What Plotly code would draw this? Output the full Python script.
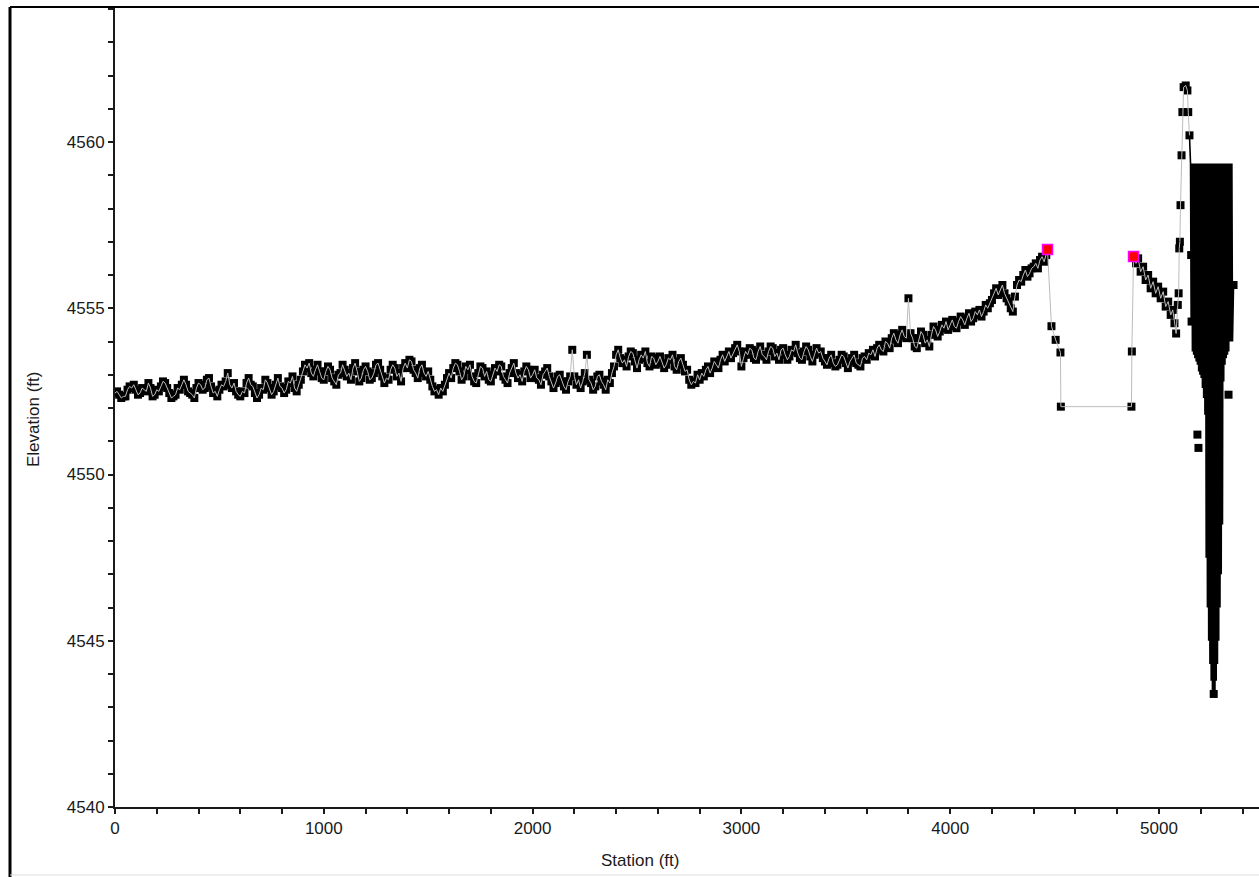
import plotly.graph_objects as go

# ---------------- data ----------------
station = [
    0, 10, 20, 30, 40, 50, 60, 70, 80, 90, 100, 110, 120, 130, 140, 150, 160, 170, 180, 190,
    200, 210, 220, 230, 240, 250, 260, 270, 280, 290, 300, 310, 320, 330, 340, 350, 360, 370, 380, 390,
    400, 410, 420, 430, 440, 450, 460, 470, 480, 490, 500, 510, 520, 530, 540, 550, 560, 570, 580, 590,
    600, 610, 620, 630, 640, 650, 660, 670, 680, 690, 700, 710, 720, 730, 740, 750, 760, 770, 780, 790,
    800, 810, 820, 830, 840, 850, 860, 870, 880, 890, 900, 910, 920, 930, 940, 950, 960, 970, 980, 990,
    1000, 1010, 1020, 1030, 1040, 1050, 1060, 1070, 1080, 1090, 1100, 1110, 1120, 1130, 1140, 1150, 1160, 1170, 1180, 1190,
    1200, 1210, 1220, 1230, 1240, 1250, 1260, 1270, 1280, 1290, 1300, 1310, 1320, 1330, 1340, 1350, 1360, 1370, 1380, 1390,
    1400, 1410, 1420, 1430, 1440, 1450, 1460, 1470, 1480, 1490, 1500, 1510, 1520, 1530, 1540, 1550, 1560, 1570, 1580, 1590,
    1600, 1610, 1620, 1630, 1640, 1650, 1660, 1670, 1680, 1690, 1700, 1710, 1720, 1730, 1740, 1750, 1760, 1770, 1780, 1790,
    1800, 1810, 1820, 1830, 1840, 1850, 1860, 1870, 1880, 1890, 1900, 1910, 1920, 1930, 1940, 1950, 1960, 1970, 1980, 1990,
    2000, 2010, 2020, 2030, 2040, 2050, 2060, 2070, 2080, 2090, 2100, 2110, 2120, 2130, 2140, 2150, 2160, 2170, 2180, 2190,
    2200, 2210, 2220, 2230, 2240, 2250, 2260, 2270, 2280, 2290, 2300, 2310, 2320, 2330, 2340, 2350, 2360, 2370, 2380, 2390,
    2400, 2410, 2420, 2430, 2440, 2450, 2460, 2470, 2480, 2490, 2500, 2510, 2520, 2530, 2540, 2550, 2560, 2570, 2580, 2590,
    2600, 2610, 2620, 2630, 2640, 2650, 2660, 2670, 2680, 2690, 2700, 2710, 2720, 2730, 2740, 2750, 2760, 2770, 2780, 2790,
    2800, 2810, 2820, 2830, 2840, 2850, 2860, 2870, 2880, 2890, 2900, 2910, 2920, 2930, 2940, 2950, 2960, 2970, 2980, 2990,
    3000, 3010, 3020, 3030, 3040, 3050, 3060, 3070, 3080, 3090, 3100, 3110, 3120, 3130, 3140, 3150, 3160, 3170, 3180, 3190,
    3200, 3210, 3220, 3230, 3240, 3250, 3260, 3270, 3280, 3290, 3300, 3310, 3320, 3330, 3340, 3350, 3360, 3370, 3380, 3390,
    3400, 3410, 3420, 3430, 3440, 3450, 3460, 3470, 3480, 3490, 3500, 3510, 3520, 3530, 3540, 3550, 3560, 3570, 3580, 3590,
    3600, 3610, 3620, 3630, 3640, 3650, 3660, 3670, 3680, 3690, 3700, 3710, 3720, 3730, 3740, 3750, 3760, 3770, 3780, 3790,
    3800, 3810, 3820, 3830, 3840, 3850, 3860, 3870, 3880, 3890, 3900, 3910, 3920, 3930, 3940, 3950, 3960, 3970, 3980, 3990,
    4000, 4010, 4020, 4030, 4040, 4050, 4060, 4070, 4080, 4090, 4100, 4110, 4120, 4130, 4140, 4150, 4160, 4170, 4180, 4190,
    4200, 4210, 4220, 4230, 4240, 4250, 4260, 4270, 4280, 4290, 4300, 4310, 4320, 4330, 4340, 4350, 4360, 4370, 4380, 4390,
    4400, 4410, 4420, 4430, 4440, 4450, 4460,
    4466, 4485, 4505, 4528, 4530, 4868, 4870, 4878,
    4890, 4900, 4912, 4924, 4936, 4948, 4960, 4972, 4984, 4996,
    5008, 5020, 5032, 5044, 5056, 5066, 5074, 5082, 5090, 5094,
    5097, 5100, 5103, 5108, 5112, 5118, 5128, 5136, 5140, 5146,
]

elevation = [
    4552.45, 4552.50, 4552.40, 4552.30, 4552.35, 4552.35, 4552.55, 4552.65, 4552.60, 4552.70, 4552.55, 4552.40, 4552.45, 4552.60, 4552.55, 4552.50, 4552.75, 4552.60, 4552.35, 4552.40,
    4552.55, 4552.50, 4552.65, 4552.80, 4552.75, 4552.60, 4552.45, 4552.30, 4552.35, 4552.40, 4552.60, 4552.55, 4552.70, 4552.85, 4552.70, 4552.50, 4552.45, 4552.40, 4552.30, 4552.60,
    4552.75, 4552.70, 4552.55, 4552.60, 4552.85, 4552.90, 4552.65, 4552.45, 4552.50, 4552.35, 4552.55, 4552.70, 4552.65, 4552.80, 4553.05, 4552.70, 4552.60, 4552.75, 4552.50, 4552.40,
    4552.35, 4552.50, 4552.45, 4552.75, 4552.90, 4552.70, 4552.65, 4552.45, 4552.30, 4552.40, 4552.60, 4552.55, 4552.85, 4552.75, 4552.60, 4552.40, 4552.50, 4552.70, 4552.90, 4552.65,
    4552.60, 4552.45, 4552.55, 4552.80, 4552.75, 4552.95, 4552.60, 4552.50, 4552.70, 4552.85, 4553.10, 4553.30, 4553.20, 4553.35, 4553.05, 4552.95, 4553.15, 4553.30, 4553.10, 4552.90,
    4552.85, 4553.10, 4553.25, 4553.15, 4552.90, 4552.80, 4552.70, 4553.00, 4553.05, 4553.30, 4553.15, 4552.95, 4553.05, 4552.85, 4553.20, 4553.35, 4553.10, 4552.80, 4552.90, 4553.15,
    4553.25, 4553.10, 4552.85, 4552.90, 4553.05, 4553.30, 4553.35, 4553.15, 4552.95, 4552.75, 4552.90, 4552.85, 4553.15, 4553.30, 4553.20, 4552.95, 4553.05, 4552.80, 4553.20, 4553.35,
    4553.20, 4553.45, 4553.40, 4553.15, 4553.05, 4552.90, 4553.20, 4553.30, 4553.05, 4552.95, 4553.10, 4552.85, 4552.65, 4552.50, 4552.55, 4552.40, 4552.60, 4552.50, 4552.70, 4552.90,
    4553.05, 4552.90, 4553.20, 4553.35, 4553.30, 4553.10, 4552.85, 4552.95, 4553.25, 4553.15, 4553.30, 4552.95, 4552.80, 4552.75, 4553.05, 4553.25, 4553.20, 4552.95, 4553.10, 4552.85,
    4552.80, 4553.00, 4553.20, 4553.10, 4553.30, 4553.25, 4552.95, 4552.85, 4552.75, 4553.05, 4553.20, 4553.35, 4553.05, 4552.90, 4553.00, 4552.80, 4553.10, 4553.25, 4553.15, 4552.90,
    4553.00, 4553.15, 4552.90, 4552.85, 4552.70, 4553.00, 4553.10, 4553.20, 4552.95, 4552.80, 4552.60, 4552.75, 4552.95, 4553.00, 4552.80, 4552.65, 4552.55, 4552.80, 4552.95, 4553.75,
    4552.95, 4552.70, 4552.85, 4552.60, 4552.80, 4553.05, 4553.60, 4552.85, 4552.75, 4552.55, 4552.65, 4552.95, 4553.00, 4552.80, 4552.70, 4552.55, 4552.85, 4552.75, 4553.05, 4553.25,
    4553.60, 4553.75, 4553.50, 4553.35, 4553.45, 4553.25, 4553.55, 4553.70, 4553.65, 4553.40, 4553.20, 4553.45, 4553.60, 4553.50, 4553.70, 4553.35, 4553.25, 4553.55, 4553.50, 4553.30,
    4553.40, 4553.55, 4553.35, 4553.20, 4553.30, 4553.50, 4553.45, 4553.60, 4553.25, 4553.15, 4553.40, 4553.50, 4553.30, 4553.10, 4553.15, 4552.85, 4552.70, 4552.80, 4552.75, 4553.00,
    4552.85, 4553.05, 4552.95, 4553.15, 4553.25, 4553.05, 4553.20, 4553.40, 4553.30, 4553.20, 4553.45, 4553.60, 4553.40, 4553.55, 4553.70, 4553.50, 4553.65, 4553.80, 4553.90, 4553.70,
    4553.25, 4553.50, 4553.70, 4553.60, 4553.80, 4553.75, 4553.50, 4553.45, 4553.70, 4553.85, 4553.60, 4553.55, 4553.45, 4553.70, 4553.85, 4553.80, 4553.55, 4553.65, 4553.45, 4553.75,
    4553.80, 4553.60, 4553.45, 4553.55, 4553.75, 4553.70, 4553.90, 4553.65, 4553.50, 4553.45, 4553.70, 4553.85, 4553.75, 4553.55, 4553.40, 4553.60, 4553.80, 4553.65, 4553.70, 4553.50,
    4553.40, 4553.30, 4553.50, 4553.60, 4553.35, 4553.25, 4553.30, 4553.45, 4553.60, 4553.55, 4553.35, 4553.20, 4553.40, 4553.50, 4553.60, 4553.35, 4553.30, 4553.25, 4553.50, 4553.55,
    4553.45, 4553.65, 4553.60, 4553.75, 4553.55, 4553.80, 4553.90, 4553.75, 4553.70, 4554.00, 4553.95, 4553.80, 4554.10, 4554.25, 4554.05, 4553.95, 4554.20, 4554.35, 4554.15, 4554.10,
    4555.30, 4554.25, 4554.10, 4553.85, 4553.80, 4554.10, 4554.30, 4554.20, 4553.95, 4554.05, 4553.85, 4554.20, 4554.45, 4554.35, 4554.15, 4554.30, 4554.50, 4554.40, 4554.60, 4554.35,
    4554.50, 4554.65, 4554.45, 4554.40, 4554.60, 4554.75, 4554.65, 4554.50, 4554.70, 4554.85, 4554.60, 4554.70, 4554.90, 4554.80, 4554.95, 4554.75, 4554.90, 4555.10, 4555.00, 4555.15,
    4555.25, 4555.45, 4555.60, 4555.40, 4555.55, 4555.70, 4555.45, 4555.30, 4555.20, 4555.00, 4554.90, 4555.35, 4555.70, 4555.85, 4555.80, 4556.00, 4556.15, 4555.95, 4556.05, 4556.20,
    4556.25, 4556.35, 4556.20, 4556.45, 4556.55, 4556.40, 4556.60,
    4556.77, 4554.46, 4554.05, 4553.67, 4552.04, 4552.04, 4553.70, 4556.56,
    4556.35, 4556.50, 4556.10, 4556.25, 4555.85, 4556.00, 4555.60, 4555.80, 4555.45, 4555.65,
    4555.30, 4555.50, 4555.05, 4555.20, 4554.80, 4554.95, 4554.55, 4554.24, 4555.10, 4555.45,
    4556.80, 4557.00, 4558.10, 4559.60, 4560.90, 4561.65, 4561.70, 4561.55, 4560.90, 4560.20,
]

# dense zig-zag section of the profile (right end)
block_station = [
    5151, 5154, 5157, 5160, 5163, 5166, 5169, 5172, 5175, 5178,
    5181, 5184, 5187, 5190, 5193, 5196, 5199, 5202, 5205, 5208,
    5211, 5214, 5217, 5220, 5223, 5226, 5229, 5232, 5235, 5238,
    5241, 5244, 5247, 5250, 5253, 5256, 5259, 5262, 5265, 5268,
    5271, 5274, 5277, 5280, 5283, 5286, 5289, 5292, 5295, 5298,
    5301, 5304, 5307, 5310, 5313, 5316, 5319, 5322, 5325, 5328,
    5331, 5334, 5337, 5340, 5343, 5346, 5349, 5352, 5357,
]
block_elevation = [
    4559.35, 4554.50, 4559.35, 4553.70, 4559.35, 4553.60, 4559.35, 4553.50, 4559.35, 4553.40,
    4559.35, 4553.30, 4559.35, 4553.10, 4559.35, 4553.00, 4559.35, 4552.90, 4559.35, 4552.60,
    4559.35, 4552.30, 4559.35, 4551.80, 4559.35, 4547.50, 4559.35, 4546.00, 4559.35, 4545.00,
    4559.35, 4544.30, 4559.35, 4543.80, 4559.35, 4543.50, 4559.35, 4543.40, 4559.35, 4543.50,
    4559.35, 4543.80, 4559.35, 4544.30, 4559.35, 4545.00, 4559.35, 4546.00, 4559.35, 4547.00,
    4559.35, 4548.50, 4559.35, 4552.80, 4559.35, 4553.30, 4559.35, 4553.50, 4559.35, 4553.60,
    4559.35, 4553.70, 4559.35, 4554.00, 4559.35, 4554.00, 4559.35, 4554.00, 4555.70,
]

# surveyed points visible inside the dense section
block_point_station = [5154, 5156, 5184, 5189, 5262, 5262, 5262, 5333, 5357]
block_point_elevation = [4556.60, 4554.60, 4551.20, 4550.80, 4546.00, 4544.80, 4543.40, 4552.40, 4555.70]

# bank stations
bank_station = [4466, 4878]
bank_elevation = [4556.77, 4556.56]

x_tick_vals = [0, 1000, 2000, 3000, 4000, 5000]
y_tick_vals = [4540, 4545, 4550, 4555, 4560]

assert len(station) == len(elevation)
assert len(block_station) == len(block_elevation)

# ---------------- figure ----------------
W, H = 1259, 877
ML, MR, MT, MB = 115, 0, 7, 70
PW, PH = W - ML - MR, H - MT - MB

def px_x(p):
    return (p - ML) / PW

def px_y(p):
    return (H - MB - p) / PH

fig = go.Figure()

fig.add_trace(go.Scatter(
    x=station + block_point_station, y=elevation + block_point_elevation,
    mode="markers",
    marker=dict(symbol="square", size=8, color="black", line=dict(width=0)),
    hoverinfo="skip", showlegend=False,
))
fig.add_trace(go.Scatter(
    x=station[-1:] + block_station, y=elevation[-1:] + block_elevation,
    mode="lines", line=dict(color="black", width=1.6),
    showlegend=False,
))
fig.add_trace(go.Scatter(
    x=station, y=elevation,
    mode="lines", line=dict(color="#bdbdbd", width=1),
    showlegend=False,
))
fig.add_trace(go.Scatter(
    x=bank_station, y=bank_elevation,
    mode="markers",
    marker=dict(symbol="square", size=10, color="#ff0000",
                line=dict(color="#ff00ff", width=1.5)),
    showlegend=False,
))

axis_font = dict(family="Liberation Sans, Arial, sans-serif", size=17, color="#1a1a1a")

fig.update_xaxes(
    range=[0, PW / 0.2088], showgrid=False, zeroline=False,
    showline=True, linecolor="#1a1a1a", linewidth=2,
    tickmode="array", tickvals=x_tick_vals,
    ticks="outside", ticklen=5, tickwidth=1.5, tickcolor="#1a1a1a",
    minor=dict(dtick=200, ticks="outside", ticklen=5, tickwidth=1.5, tickcolor="#1a1a1a"),
    tickfont=axis_font,
)
fig.update_yaxes(
    range=[4540, 4540 + PH / 33.25], showgrid=False, zeroline=False,
    showline=True, linecolor="#1a1a1a", linewidth=2,
    tickmode="array", tickvals=y_tick_vals,
    ticks="outside", ticklen=5, tickwidth=1.5, tickcolor="#1a1a1a",
    minor=dict(dtick=1, ticks="outside", ticklen=5, tickwidth=1.5, tickcolor="#1a1a1a"),
    tickfont=axis_font,
)

fig.update_layout(
    width=W, height=H,
    margin=dict(l=ML, r=MR, t=MT, b=MB, pad=0),
    paper_bgcolor="white", plot_bgcolor="white",
    font=axis_font,
    annotations=[
        dict(text="Station (ft)", x=px_x(640), y=px_y(861), xref="paper", yref="paper",
             showarrow=False, xanchor="center", yanchor="middle", font=axis_font),
        dict(text="Elevation (ft)", x=px_x(33), y=px_y(420), xref="paper", yref="paper",
             showarrow=False, xanchor="center", yanchor="middle", textangle=-90, font=axis_font),
    ],
    shapes=[
        dict(type="line", xref="paper", yref="paper", x0=px_x(10), x1=px_x(10),
             y0=px_y(7), y1=px_y(877), line=dict(color="black", width=3)),
        dict(type="line", xref="paper", yref="paper", x0=px_x(10), x1=px_x(1259),
             y0=px_y(7), y1=px_y(7), line=dict(color="black", width=2)),
        dict(type="line", xref="paper", yref="paper", x0=px_x(10), x1=px_x(1259),
             y0=px_y(875), y1=px_y(875), line=dict(color="#dddddd", width=1)),
    ],
)

fig.write_html("out.html", config={"displayModeBar": False},
               post_script="document.body.style.margin='0';document.body.style.overflow='hidden';")
